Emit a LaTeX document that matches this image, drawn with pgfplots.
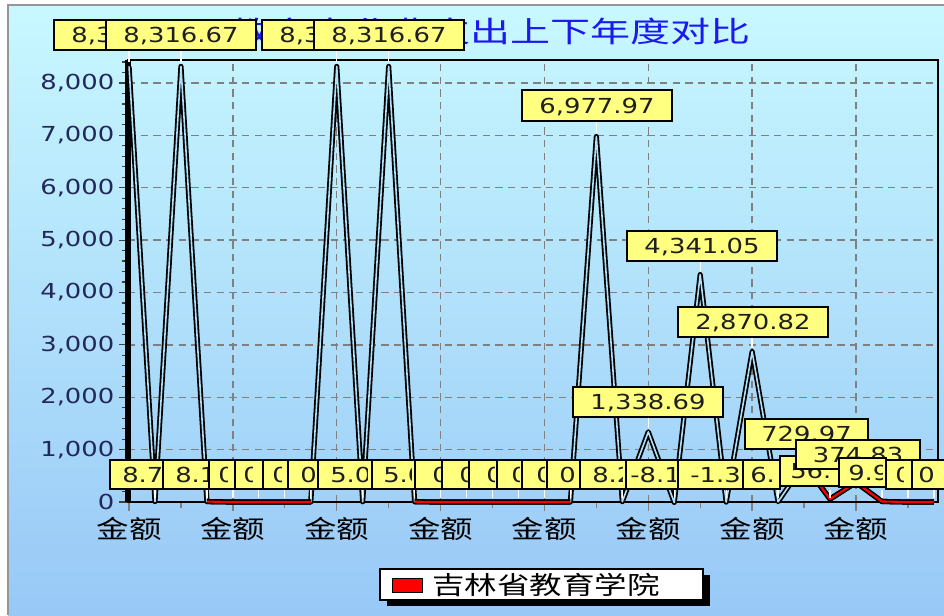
\documentclass[border=0pt]{standalone}
\usepackage{pgfplots}
\pgfplotsset{compat=1.18}
\usepackage{fontspec}
\newfontfamily\numfam[FakeStretch=1.25]{DejaVu Sans}
\newfontfamily\cjkfam[FakeStretch=1.3]{Noto Sans CJK SC}
\newfontfamily\titlefam[FakeStretch=1.38]{Noto Sans CJK SC}
\newcommand{\lblfont}{\numfam\fontsize{15.5pt}{18pt}\selectfont}
\newcommand{\cjkfont}{\cjkfam\fontsize{18.75pt}{22pt}\selectfont}
\newcommand{\titlefont}{\titlefam\fontsize{21.75pt}{26pt}\selectfont}
\definecolor{lblyellow}{RGB}{255,255,128}
\definecolor{lbltext}{RGB}{30,30,30}
\definecolor{tickblue}{RGB}{35,40,90}
\definecolor{titleblue}{RGB}{25,25,240}
\definecolor{bgtop}{RGB}{200,248,255}
\definecolor{bgbot}{RGB}{152,200,246}
\definecolor{innerc}{RGB}{175,225,250}
\definecolor{gridgray}{RGB}{128,128,128}
\definecolor{framegray}{RGB}{150,150,150}
\tikzset{lbl/.style={inner sep=0pt, font=\lblfont, text=lbltext, text height=11.3pt, text depth=0pt}}
% box with centred text: xl xr yt yb text
\newcommand{\cbox}[5]{%
  \draw[line width=0.9pt, fill=lblyellow] (#1,#3) rectangle (#2,#4);
  \node[lbl] at ({(#1+#2)/2},{(#3+#4)/2}) {#5};}
% box with left text clipped: xl xr yt yb textx clipx text
\newcommand{\lbox}[7]{%
  \draw[line width=0.9pt, fill=lblyellow] (#1,#3) rectangle (#2,#4);
  \begin{scope}
    \clip (#1,#3) rectangle (#6,#4);
    \node[lbl, anchor=west] at (#5,{(#3+#4)/2}) {#7};
  \end{scope}}
\begin{document}
\begin{tikzpicture}
\useasboundingbox (0,0) rectangle (708pt,-461.25pt);
\clip (0,0) rectangle (708pt,-461.25pt);
\begin{scope}[x=0.75pt,y=-0.75pt]
  \fill[white] (0,0) rectangle (944,615);
  \fill[top color=bgtop, bottom color=bgbot] (8,5) rectangle (944,615);
  \draw[framegray, line width=1.1pt] (8,615) -- (8,5) -- (944,5);
  \node[font=\titlefont, text=titleblue, anchor=west, inner sep=0pt] at (230,31) {教育事业费支出上下年度对比};
\end{scope}

\begin{axis}[
  at={(96pt,-376.5pt)}, anchor=south west,
  scale only axis, width=607.5pt, height=331.5pt,
  xmin=-0.04, xmax=31.16, ymin=0, ymax=8439,
  clip=false,
  axis line style={black, line width=1.1pt},
  tick pos=left,
  tick align=outside,
  major tick length=6.75pt,
  minor tick length=4.5pt,
  xtick={0,4,...,28},
  xticklabels={金额,金额,金额,金额,金额,金额,金额,金额},
  minor xtick={2,6,...,30},
  ytick={0,1000,...,8000},
  minor ytick={0,200,...,8400},
  xtick style={gridgray, line width=1pt},
  ytick style={black!75, line width=0.9pt},
  xmajorgrids=true, ymajorgrids=true,
  major grid style={gridgray, line width=1.1pt, dash pattern=on 5.5pt off 4pt},
  yticklabel style={font=\lblfont, text=tickblue},
  xticklabel style={font=\cjkfont, text=black, yshift=-1pt},
  /pgf/number format/1000 sep={,},
  /pgf/number format/assume math mode=true,
]
\draw[black, line width=4.5pt] (rel axis cs:0,0) -- (rel axis cs:0,1);
\addplot[black, line width=1.35pt, double=innerc, double distance=1.2pt, line join=round, mark=none] coordinates {
 (0,8316.67) (1,8.7) (2,8316.67) (3,8.1) (4,0) (5,0) (6,0) (7,0)
 (8,8316.67) (9,5.0) (10,8316.67) (11,5.0) (12,0) (13,0) (14,0) (15,0)
 (16,0) (17,0) (18,6977.97) (19,8.2) (20,1338.69) (21,-8.1) (22,4341.05) (23,-1.3)
 (24,2870.82) (25,6.0) (26,729.97) (27,56.0) (28,374.83) (29,9.9) (30,0) (31,0)
};
\addplot[black, line width=1.15pt, double=red, double distance=1.6pt, line join=round, mark=none, unbounded coords=jump] coordinates {
 (3,8.1) (4,0) (5,0) (6,0) (7,0) (8,nan)
 (11,5.0) (12,0) (13,0) (14,0) (15,0) (16,0) (17,0) (18,nan)
 (26,729.97) (27,56.0) (28,374.83) (29,9.9) (30,0) (31,0)
};
\end{axis}

\begin{scope}[x=0.75pt,y=-0.75pt]
  % connectors
  \foreach \i in {1,3,4,5,6,7,9,11,12,13,14,15,16,17,19,21,23,25,27,29,30,31}
    \draw[white, line width=1pt] ({129+25.964*\i},489.5) -- ++(0,8);
  \draw[white, line width=1pt] (129,50) -- (129,62);
  \draw[white, line width=1pt] (181,50) -- (181,62);
  \draw[white, line width=1pt] (336.7,50) -- (336.7,62);
  \draw[white, line width=1pt] (388.6,50) -- (388.6,62);
  \draw[white, line width=1pt] (596.4,121) -- (596.4,133);
  \draw[white, line width=1pt] (700.2,261) -- (700.2,271);
  \draw[white, line width=1pt] (752.1,337) -- (752.1,348);
  \draw[white, line width=1pt] (648.3,417) -- (648.3,428);
  % top labels
  \cbox{54}{204}{20}{50}{8,316.67}
  \cbox{106}{256}{20}{50}{8,316.67}
  \cbox{262}{412}{20}{50}{8,316.67}
  \cbox{314}{464}{20}{50}{8,316.67}
  \cbox{522}{672}{90}{121}{6,977.97}
  \cbox{627}{777}{231}{261}{4,341.05}
  \cbox{678}{828}{307}{337}{2,870.82}
  \cbox{573}{723}{387}{417}{1,338.69}
  % bottom row
  \lbox{110}{163}{460}{489}{122}{163}{8.7}
  \lbox{163}{209}{460}{489}{175}{207}{8.1}
  \lbox{209}{235}{460}{489}{218}{227}{0}
  \lbox{235}{263}{460}{489}{243}{252}{0}
  \lbox{263}{288}{460}{489}{272}{281}{0}
  \lbox{288}{318}{460}{489}{300}{318}{0}
  \lbox{318}{372}{460}{489}{330}{367}{5.0}
  \lbox{372}{415}{460}{489}{383}{411}{5.0}
  \lbox{415}{442}{460}{489}{432}{440}{0}
  \lbox{442}{469}{460}{489}{459}{467}{0}
  \lbox{469}{497}{460}{489}{486}{494}{0}
  \lbox{497}{522}{460}{489}{511}{519}{0}
  \lbox{522}{547}{460}{489}{536}{544}{0}
  \lbox{547}{580}{460}{489}{559}{580}{0}
  \lbox{580}{626}{460}{489}{592}{622}{8.2}
  \lbox{626}{678}{460}{489}{630}{675}{-8.1}
  \lbox{678}{743}{460}{489}{690}{741}{-1.3}
  \lbox{743}{780}{460}{489}{750}{780}{6.}
  \lbox{780}{845}{456}{486}{790}{845}{56.}
  \cbox{745}{868}{419}{449}{729.97}
  \cbox{796}{920}{440}{469}{374.83}
  \lbox{839}{886}{458}{487}{848}{882}{9.9}
  \lbox{886}{912}{460}{489}{895}{903}{0}
  \lbox{912}{960}{460}{489}{918}{960}{0}
  % legend
  \fill[black] (387,575) rectangle (710,606);
  \draw[line width=0.9pt, fill=white] (380,569) rectangle (703,600);
  \draw[line width=0.75pt, fill=red] (392,578) rectangle (422,592);
  \node[anchor=west, font=\cjkfont, inner sep=0pt] at (432,585) {吉林省教育学院};
\end{scope}
\end{tikzpicture}
\end{document}
